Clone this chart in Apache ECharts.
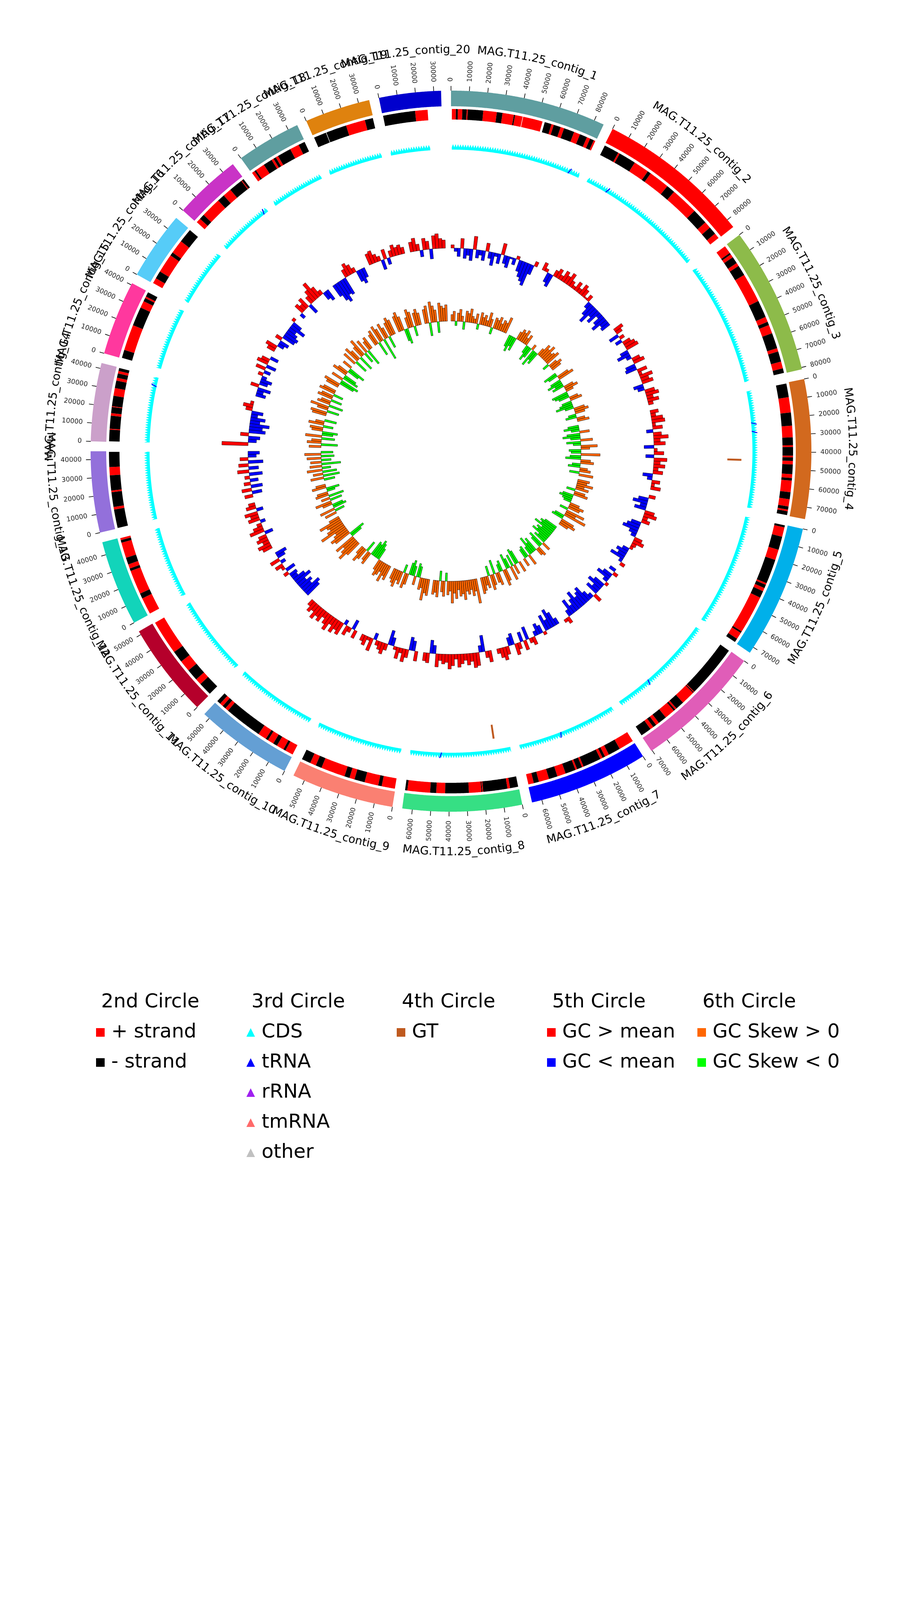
<!DOCTYPE html>
<html>
<head>
<meta charset="utf-8">
<script src="https://cdn.jsdelivr.net/npm/echarts@6/dist/echarts.min.js"></script>
<style>
  html, body { margin: 0; background: #fff; }
  #chart { width: 2310px; height: 4620px; }
</style>
</head>
<body>
<div id="chart"></div>
<script>
// contigs (length in kb), clockwise from the top
const contigNames = [
  'MAG.T11.25_contig_1', 'MAG.T11.25_contig_2', 'MAG.T11.25_contig_3', 'MAG.T11.25_contig_4',
  'MAG.T11.25_contig_5', 'MAG.T11.25_contig_6', 'MAG.T11.25_contig_7', 'MAG.T11.25_contig_8',
  'MAG.T11.25_contig_9', 'MAG.T11.25_contig_10', 'MAG.T11.25_contig_11', 'MAG.T11.25_contig_12',
  'MAG.T11.25_contig_13', 'MAG.T11.25_contig_14', 'MAG.T11.25_contig_15', 'MAG.T11.25_contig_16',
  'MAG.T11.25_contig_17', 'MAG.T11.25_contig_18', 'MAG.T11.25_contig_19', 'MAG.T11.25_contig_20'
]
const contigLengths = [85.5, 85, 81, 76.5, 73.5, 70.5, 65.5, 65.5, 56.5, 53.5, 52, 47, 44.5, 43, 41, 37.5, 37, 35.5, 36, 34]
const contigColors = [
  '#5F9EA0', '#FF0000', '#8DBB4A', '#D2691E', '#00B0EA', '#E05DB8', '#0000FF', '#36DF84', '#FA8072', '#649FD4',
  '#B5002B', '#12D4BA', '#9370DB', '#CBA0CA', '#FF389E', '#56CCF8', '#C933C6', '#5F9EA0', '#DF820E', '#0000CD'
]
const tickStep = 10 // kb

// 2nd circle: gene runs per contig [strand, start kb, end kb]
const strandRuns = [
  [[1,0.5,2.8],[-1,2.8,3.9],[1,3.9,6.5],[-1,6.5,9.0],[1,9.0,9.6],[-1,9.6,18.5],[1,18.5,26.3],[-1,26.3,29.6],[1,29.6,36.2],[-1,36.2,36.9],[1,36.9,41.3],[1,41.6,53.0],[-1,54.3,58.3],[1,58.3,59.7],[-1,59.7,63.8],[1,63.8,65.9],[-1,65.9,72.0],[1,72.0,75.6],[-1,75.6,79.9],[1,79.9,81.9],[-1,81.9,84.2],[1,84.2,85.2]],
  [[-1,0.3,9],[1,9,10],[-1,10,20],[1,20,29],[-1,29,31],[1,31,43],[-1,43,48],[1,48,64],[-1,64,73],[1,73,77],[-1,77,81.5],[1,81.5,84.7]],
  [[1,0.3,5],[-1,5,6],[1,6,8],[-1,8,12],[1,12,14],[-1,14,20],[1,20,37],[-1,37,47],[1,47,50],[-1,50,52],[1,52,57],[-1,57,66],[1,66,68],[-1,68,74],[1,74,78],[-1,78,80.7]],
  [[-1,0.5,8.4],[1,8.4,17.2],[-1,17.2,24.8],[1,24.8,31.5],[-1,31.5,36],[1,36,37],[-1,37,42],[1,42,43],[-1,43,45],[1,45,47],[-1,47,52.6],[1,52.6,54.8],[-1,54.8,56.3],[1,56.3,63],[-1,63,67],[1,67,71.2],[-1,71.2,73],[1,73,74],[-1,74,76.2]],
  [[-1,0.3,1.5],[1,1.5,7],[-1,7,14.7],[1,14.7,20.8],[-1,20.8,35],[1,35,36],[-1,36,38],[1,38,40],[-1,40,44],[1,44,66],[-1,66,67],[1,67,71],[-1,71,73.2]],
  [[-1,0.3,31],[1,31,31.5],[-1,31.5,32],[1,32,40],[-1,40,45],[1,45,46],[-1,46,47],[1,47,53],[-1,53,58],[1,58,60],[-1,60,62],[1,62,64],[-1,64,70.2]],
  [[1,0.3,9],[-1,9,16],[1,16,18.5],[-1,18.5,20],[1,20,21.5],[-1,21.5,32],[1,32,33],[-1,33,36],[1,36,37],[-1,37,43],[1,43,48],[-1,48,53],[1,53,59],[-1,59,62],[1,62,65.2]],
  [[-1,0.3,5],[1,5,6.5],[-1,6.5,20.5],[1,20.5,21],[-1,21,21.5],[1,21.5,28.7],[-1,28.7,42.3],[1,42.3,47.4],[-1,47.4,50.9],[1,50.9,64],[-1,64,65.3]],
  [[1,0.3,8],[-1,8,10],[1,10,18],[-1,18,24],[1,24,27],[-1,27,30],[1,30,44],[-1,44,47.5],[1,47.5,51],[-1,51,56.2]],
  [[1,0.3,5],[-1,5,6.3],[1,6.3,10.6],[-1,10.6,13],[1,13,16.6],[-1,16.6,18],[1,18,23],[-1,23,45],[1,45,47],[-1,47,49],[1,49,51],[-1,51,53.2]],
  [[-1,0.3,8],[1,8,11.6],[-1,11.6,18.4],[1,18.4,24.9],[-1,24.9,31.7],[1,31.7,51.7]],
  [[1,0.3,10],[-1,10,13],[1,13,27],[-1,27,28.5],[1,28.5,31],[-1,31,35],[1,35,44],[-1,44,45.5],[1,45.5,46.7]],
  [[-1,0.3,11],[1,11,12.5],[-1,12.5,21],[1,21,22],[-1,22,30.7],[1,30.7,35.5],[-1,35.5,44.2]],
  [[-1,0.3,7],[1,7,7.5],[-1,7.5,15],[1,15,16.5],[-1,16.5,20],[1,20,20.5],[-1,20.5,26.5],[1,26.5,31],[-1,31,35.3],[1,35.3,37],[-1,37,39.5],[1,39.5,41],[-1,41,42.7]],
  [[-1,0.3,5],[1,5,20],[-1,20,31],[1,31,35],[-1,35,37],[1,37,38],[-1,38,40.7]],
  [[1,0.3,3.5],[-1,3.5,8],[1,8,19],[-1,19,21],[1,21,29],[-1,29,37.2]],
  [[1,0.3,3],[-1,3,6],[1,6,17.7],[-1,17.7,22],[1,22,27],[-1,27,35],[1,35,35.5],[-1,35.5,36.7]],
  [[1,0.3,2],[-1,2,3],[1,3,8.5],[-1,8.5,13.7],[1,13.7,15],[-1,15,16.5],[1,16.5,18],[-1,18,26],[1,26,31.4],[-1,31.4,35.2]],
  [[-1,0.3,7.6],[-1,7.9,19.8],[1,19.8,31],[-1,31,35.7]],
  [[-1,0.3,18.8],[1,18.8,26]]
]

// 3rd circle: tRNA positions [contig index, kb]
const trnaSites = [[0,77.8],[1,14.4],[3,21],[3,26.5],[5,46.6],[6,36.9],[7,45],[13,36.7],[16,33.4]]
// 4th circle: GT positions [contig index, kb]
const gtSites = [[3,44.6],[7,9.5]]

// 5th circle: GC content (%) per window
const gcPercent = [
  [52,48,45,56,44,46,43,58,45,47,44,55,46,42,48,44,57,45,43,49,46,52,43,40,38,36,44,53],
  [55,52,44,42,54,56,53,57,55,58,54,52,56,53,57,55,51,54,46,42,38,44,41,47,43,40,45,44],
  [56,54,44,53,46,55,57,58,45,42,47,55,57,44,43,56,52,58,55,57,44,46,56,58,54,57,53],
  [55,53,57,58,52,56,46,55,59,54,57,44,52,56,45,58,54,57,53,56,44,47,55,52,56],
  [54,44,41,46,43,56,58,53,55,44,42,40,45,47,55,57,53,52,46,43,45,41,48,53],
  [46,53,44,41,47,52,43,40,45,42,55,47,44,39,41,43,38,42,45,40,46,54,52],
  [46,41,38,44,40,52,45,43,47,55,53,42,56,44,54,57,43,45,55,58,56,53],
  [57,54,40,46,58,59,55,57,54,56,58,53,57,59,55,56,54,58,45,42,56,55],
  [56,44,42,55,58,53,57,52,45,41,54,57,55,53,46,58,52,56,54],
  [55,44,53,56,47,58,56,59,55,60,57,54,58,56,59,55,57,54],
  [40,38,43,41,44,39,42,46,45,53,44,52,55,47,56,45,43],
  [56,58,54,57,55,45,59,56,53,47,57,55,58,46,56,54],
  [55,44,56,43,54,45,53,42,57,44,56,41,55,45,43],
  [66,45,43,55,40,42,38,44,41,46,43,54,56,52],
  [44,46,42,55,45,43,47,53,46,56,44,57,55,45],
  [55,57,46,44,54,42,41,43,45,40,44,52],
  [47,56,54,57,44,55,58,62,57,53,45,43],
  [42,38,36,40,39,55,58,56,53,43,41,44],
  [57,58,55,53,44,56,46,54,57,55,56,54],
  [56,58,54,46,57,55,44,58,59,56,55]
]

// 6th circle: GC skew per window
const gcSkew = [
  [0.12,0.18,-0.08,0.15,0.22,0.10,-0.14,0.20,0.16,0.25,0.12,0.08,0.18,-0.10,0.22,0.14,0.19,0.10,0.26,0.15,-0.12,0.20,0.17,0.24,0.13,0.21,0.18,0.30],
  [-0.22,-0.30,-0.18,-0.25,0.15,0.22,0.18,0.25,0.12,0.20,-0.15,-0.28,-0.20,0.10,-0.32,-0.18,-0.24,0.14,0.26,0.20,0.30,0.18,0.22,0.28,-0.12,0.16,0.24,0.19],
  [-0.25,-0.18,0.22,0.30,-0.20,-0.28,-0.15,-0.22,0.18,0.25,0.14,-0.30,-0.26,-0.20,0.16,0.22,-0.18,-0.24,-0.32,-0.16,0.20,0.26,0.18,-0.14,-0.20,0.15,0.22],
  [-0.20,-0.28,-0.15,0.18,-0.24,-0.32,-0.18,0.22,-0.26,-0.14,0.30,0.16,-0.22,-0.18,0.35,-0.20,-0.28,0.18,0.24,-0.15,-0.22,0.14,0.20,-0.18,0.26],
  [0.22,0.18,0.30,0.15,0.24,-0.16,0.20,0.26,-0.20,-0.25,-0.18,-0.14,0.18,0.28,0.22,-0.15,0.35,0.20,0.42,-0.18,-0.22,0.25,0.30,0.18],
  [-0.25,-0.32,-0.28,-0.40,-0.22,-0.30,-0.26,-0.35,-0.18,-0.24,0.16,-0.30,-0.22,0.18,0.14,-0.28,-0.20,-0.34,-0.16,0.20,-0.22,-0.18,0.15],
  [0.20,-0.25,-0.30,0.18,-0.22,0.26,-0.18,-0.28,0.22,0.30,-0.20,-0.14,0.24,0.18,-0.26,0.20,0.28,-0.18,0.22,0.16,0.25,0.30],
  [0.45,0.22,0.30,0.18,0.26,0.20,0.35,0.24,0.28,0.16,0.32,0.22,0.40,0.18,0.25,-0.15,0.28,0.20,-0.18,0.30,0.22,0.26],
  [0.30,0.26,0.40,0.18,0.22,-0.20,-0.25,0.16,-0.18,-0.28,-0.22,0.20,0.28,-0.15,0.24,0.18,0.32,0.26,0.20],
  [0.28,0.22,0.35,0.18,0.26,0.30,0.20,-0.22,-0.30,-0.35,-0.25,-0.28,0.24,0.18,-0.20,0.22,0.30,0.16],
  [0.30,0.45,0.35,0.26,0.40,-0.22,-0.30,0.32,0.38,0.28,0.22,0.50,0.34,0.26,0.30,0.42,0.20],
  [0.22,-0.18,0.28,-0.25,-0.20,0.18,0.30,-0.22,0.16,-0.28,0.24,0.20,-0.15,-0.24,0.26,0.18],
  [-0.20,0.24,-0.30,0.18,-0.26,0.28,-0.16,0.22,-0.35,0.20,-0.18,0.26,-0.24,0.30,-0.22],
  [0.22,-0.30,0.26,0.18,-0.24,0.30,-0.20,-0.28,0.20,0.24,-0.18,0.28,0.16,-0.22],
  [0.26,0.30,-0.22,0.20,0.34,-0.26,0.24,0.18,-0.20,0.28,0.22,-0.18,0.30,0.24],
  [0.24,0.30,-0.28,-0.35,0.22,-0.30,-0.24,0.28,0.20,-0.22,-0.32,0.18],
  [0.26,-0.24,0.30,0.20,-0.28,0.22,0.34,-0.20,0.26,-0.30,0.18,0.24],
  [0.22,0.28,-0.26,0.32,0.24,-0.40,0.30,0.20,-0.22,0.26,0.34,0.28],
  [0.30,0.36,0.26,-0.22,-0.28,0.20,0.34,0.28,-0.18,0.24,0.30,0.22],
  [0.26,0.32,-0.24,0.38,0.30,0.22,-0.20,0.34,0.28,0.24,0.30]
]

// legend columns
const legendCols = [
  { title: '2nd Circle', items: [['+ strand', 'rect', '#FF0000'], ['- strand', 'rect', '#000000']] },
  { title: '3rd Circle', items: [['CDS', 'triangle', '#00FFFF'], ['tRNA', 'triangle', '#0000FF'], ['rRNA', 'triangle', '#A020F0'], ['tmRNA', 'triangle', '#FF6A6A'], ['other', 'triangle', '#C0C0C0']] },
  { title: '4th Circle', items: [['GT', 'rect', '#BF5A1F']] },
  { title: '5th Circle', items: [['GC > mean', 'rect', '#FF0000'], ['GC < mean', 'rect', '#0000FF']] },
  { title: '6th Circle', items: [['GC Skew > 0', 'rect', '#FF6600'], ['GC Skew < 0', 'rect', '#00FF00']] }
]

// ring layout (radius axis units = px)
const FONT = '"DejaVu Sans", sans-serif'
const GAP = 5.4
const R = {
  bandIn: 883, bandOut: 923, tickOut: 935, tickLabel: 946, name: 1027,
  strandIn: 849, strandOut: 876, cdsIn: 772, cdsMid: 778, cdsOut: 786,
  gtIn: 708, gtOut: 744, gcBase: 520, skewBase: 333
}
const GC_PX = 4.2
const SKEW_PX = 140

const offsets = []
let acc = 0
contigLengths.forEach(len => { offsets.push(acc); acc += len + GAP })
const TOTAL = acc

const plusRuns = []
const minusRuns = []
strandRuns.forEach((runs, i) => {
  runs.forEach(([s, a, b]) => (s > 0 ? plusRuns : minusRuns).push([offsets[i] + a, offsets[i] + b]))
})

// CDS spans = merged gene runs
const cdsSpans = []
strandRuns.forEach((runs, i) => {
  const sorted = runs.map(r => [r[1], r[2]]).sort((x, y) => x[0] - y[0])
  let cur = null
  sorted.forEach(([a, b]) => {
    if (cur && a - cur[1] < 1.5) {
      cur[1] = Math.max(cur[1], b)
    } else {
      if (cur) cdsSpans.push([offsets[i] + cur[0], offsets[i] + cur[1]])
      cur = [a, b]
    }
  })
  if (cur) cdsSpans.push([offsets[i] + cur[0], offsets[i] + cur[1]])
})

function windows(values) {
  const out = []
  values.forEach((vals, i) => {
    const w = contigLengths[i] / vals.length
    vals.forEach((v, j) => out.push([offsets[i] + j * w, offsets[i] + (j + 1) * w, v]))
  })
  return out
}
const allGc = gcPercent.flat()
const gcMean = allGc.reduce((s, v) => s + v, 0) / allGc.length
const gcWin = windows(gcPercent).map(([a, b, v]) => [a, b, v - gcMean])
const skewWin = windows(gcSkew)

const measure = document.createElement('canvas').getContext('2d')

// points along an arc through the polar coordinate system
function arc(api, r, a0, a1, step) {
  const n = Math.max(1, Math.ceil(Math.abs(a1 - a0) / step))
  const pts = []
  for (let i = 0; i <= n; i++) pts.push(api.coord([r, a0 + (a1 - a0) * i / n]))
  return pts
}
function band(api, r0, r1, a0, a1, style) {
  const pts = arc(api, r1, a0, a1, 0.5).concat(arc(api, r0, a1, a0, 0.5))
  return { type: 'polygon', shape: { points: pts }, style }
}
function angleOf(api, p) {
  const c = api.coord([0, 0])
  let t = Math.atan2(p[0] - c[0], c[1] - p[1])
  if (t < 0) t += Math.PI * 2
  return t
}

function renderContig(params, api) {
  const i = params.dataIndex
  const a0 = api.value(0)
  const len = api.value(1)
  const children = [band(api, R.bandIn, R.bandOut, a0, a0 + len, { fill: contigColors[i] })]

  // ticks + tick labels
  for (let k = 0; k * tickStep <= len; k++) {
    const a = a0 + k * tickStep
    const p0 = api.coord([R.bandOut, a])
    const p1 = api.coord([R.tickOut, a])
    children.push({ type: 'line', shape: { x1: p0[0], y1: p0[1], x2: p1[0], y2: p1[1] }, style: { stroke: '#000', lineWidth: 1.6 } })
    const pl = api.coord([R.tickLabel, a])
    const t = angleOf(api, pl)
    const flip = t > Math.PI
    children.push({
      type: 'text', x: pl[0], y: pl[1],
      rotation: flip ? Math.PI * 1.5 - t : Math.PI / 2 - t,
      style: { text: String(k * tickStep * 1000), x: 0, y: 0, font: '17px ' + FONT, fill: '#222', align: flip ? 'right' : 'left', verticalAlign: 'middle' }
    })
  }

  // curved contig name
  const name = contigNames[i]
  const font = '29px ' + FONT
  measure.font = font
  const unitsPerPx = TOTAL / (2 * Math.PI * R.name)
  const mid = a0 + len / 2
  const tm = angleOf(api, api.coord([R.name, mid]))
  const flip = tm > Math.PI / 2 && tm < Math.PI * 1.5
  const dir = flip ? -1 : 1
  let cursor = mid - dir * measure.measureText(name).width / 2 * unitsPerPx
  for (const ch of name) {
    const w = measure.measureText(ch).width * unitsPerPx
    const a = cursor + dir * w / 2
    cursor += dir * w
    const p = api.coord([R.name, a])
    const t = angleOf(api, p)
    children.push({
      type: 'text', x: p[0], y: p[1],
      rotation: flip ? Math.PI - t : -t,
      style: { text: ch, x: 0, y: 0, font, fill: '#000', align: 'center', verticalAlign: 'middle' }
    })
  }
  return { type: 'group', children }
}

function ringSeries(name, data, color, base, scale) {
  return {
    type: 'custom', name, coordinateSystem: 'polar', silent: true, itemStyle: { color }, data,
    renderItem: (params, api) => band(api, base, base + api.value(2) * scale, api.value(0), api.value(1),
      { fill: color, stroke: '#000', lineWidth: 0.8 })
  }
}

function spanSeries(name, data, color, r0, r1) {
  return {
    type: 'custom', name, coordinateSystem: 'polar', silent: true, itemStyle: { color }, data,
    renderItem: (params, api) => band(api, r0, r1, api.value(0), api.value(1), { fill: color })
  }
}

const chart = echarts.init(document.getElementById('chart'))

const option = {
  backgroundColor: '#fff',
  animation: false,
  polar: { center: [1155, 1155], radius: 1100 },
  angleAxis: { type: 'value', min: 0, max: TOTAL, startAngle: 90, clockwise: true, show: false },
  radiusAxis: { type: 'value', min: 0, max: 1100, show: false },
  title: legendCols.map((c, k) => ({
    text: c.title, left: 259 + k * 385, top: 2541, padding: 0,
    textStyle: { fontSize: 50, fontWeight: 'normal', color: '#000', fontFamily: FONT, lineHeight: 50 }
  })),
  legend: legendCols.map((c, k) => ({
    orient: 'vertical', left: 246 + k * 385, top: 2618, padding: 0,
    itemWidth: 22, itemHeight: 22, itemGap: 27, selectedMode: false,
    textStyle: { fontSize: 50, fontFamily: FONT, color: '#000', lineHeight: 50, padding: [0, 0, 0, 12] },
    data: c.items.map(([name, icon, color]) => ({ name, icon, itemStyle: { color } }))
  })),
  series: [
    {
      type: 'custom', name: 'contigs', coordinateSystem: 'polar', silent: true,
      data: contigLengths.map((len, i) => [offsets[i], len]),
      renderItem: renderContig
    },
    spanSeries('+ strand', plusRuns, '#FF0000', R.strandIn, R.strandOut),
    spanSeries('- strand', minusRuns, '#000000', R.strandIn, R.strandOut),
    {
      type: 'custom', name: 'CDS', coordinateSystem: 'polar', silent: true, itemStyle: { color: '#00FFFF' },
      data: cdsSpans,
      renderItem: (params, api) => {
        const a0 = api.value(0)
        const a1 = api.value(1)
        const pts = arc(api, R.cdsIn, a0, a1, 0.5)
        const n = Math.max(2, Math.round((a1 - a0) / 0.8))
        for (let k = 0; k <= n; k++) pts.push(api.coord([k % 2 ? R.cdsOut : R.cdsMid, a1 - (a1 - a0) * k / n]))
        return { type: 'polygon', shape: { points: pts }, style: { fill: '#00FFFF' } }
      }
    },
    {
      type: 'custom', name: 'tRNA', coordinateSystem: 'polar', silent: true, itemStyle: { color: '#0000FF' },
      data: trnaSites.map(([i, kb]) => [offsets[i] + kb]),
      renderItem: (params, api) => {
        const a = api.value(0)
        const p0 = api.coord([R.cdsIn, a])
        const p1 = api.coord([R.cdsOut, a + 1.2])
        return { type: 'line', shape: { x1: p0[0], y1: p0[1], x2: p1[0], y2: p1[1] }, style: { stroke: '#0000FF', lineWidth: 2.5 } }
      }
    },
    { type: 'custom', name: 'rRNA', coordinateSystem: 'polar', silent: true, itemStyle: { color: '#A020F0' }, data: [], renderItem: () => null },
    { type: 'custom', name: 'tmRNA', coordinateSystem: 'polar', silent: true, itemStyle: { color: '#FF6A6A' }, data: [], renderItem: () => null },
    { type: 'custom', name: 'other', coordinateSystem: 'polar', silent: true, itemStyle: { color: '#C0C0C0' }, data: [], renderItem: () => null },
    spanSeries('GT', gtSites.map(([i, kb]) => [offsets[i] + kb, offsets[i] + kb + 1.3]), '#BF5A1F', R.gtIn, R.gtOut),
    ringSeries('GC > mean', gcWin.filter(d => d[2] >= 0), '#FF0000', R.gcBase, GC_PX),
    ringSeries('GC < mean', gcWin.filter(d => d[2] < 0), '#0000FF', R.gcBase, GC_PX),
    ringSeries('GC Skew > 0', skewWin.filter(d => d[2] >= 0), '#FF6600', R.skewBase, SKEW_PX),
    ringSeries('GC Skew < 0', skewWin.filter(d => d[2] < 0), '#00FF00', R.skewBase, SKEW_PX)
  ]
}

chart.setOption(option)
</script>
</body>
</html>
